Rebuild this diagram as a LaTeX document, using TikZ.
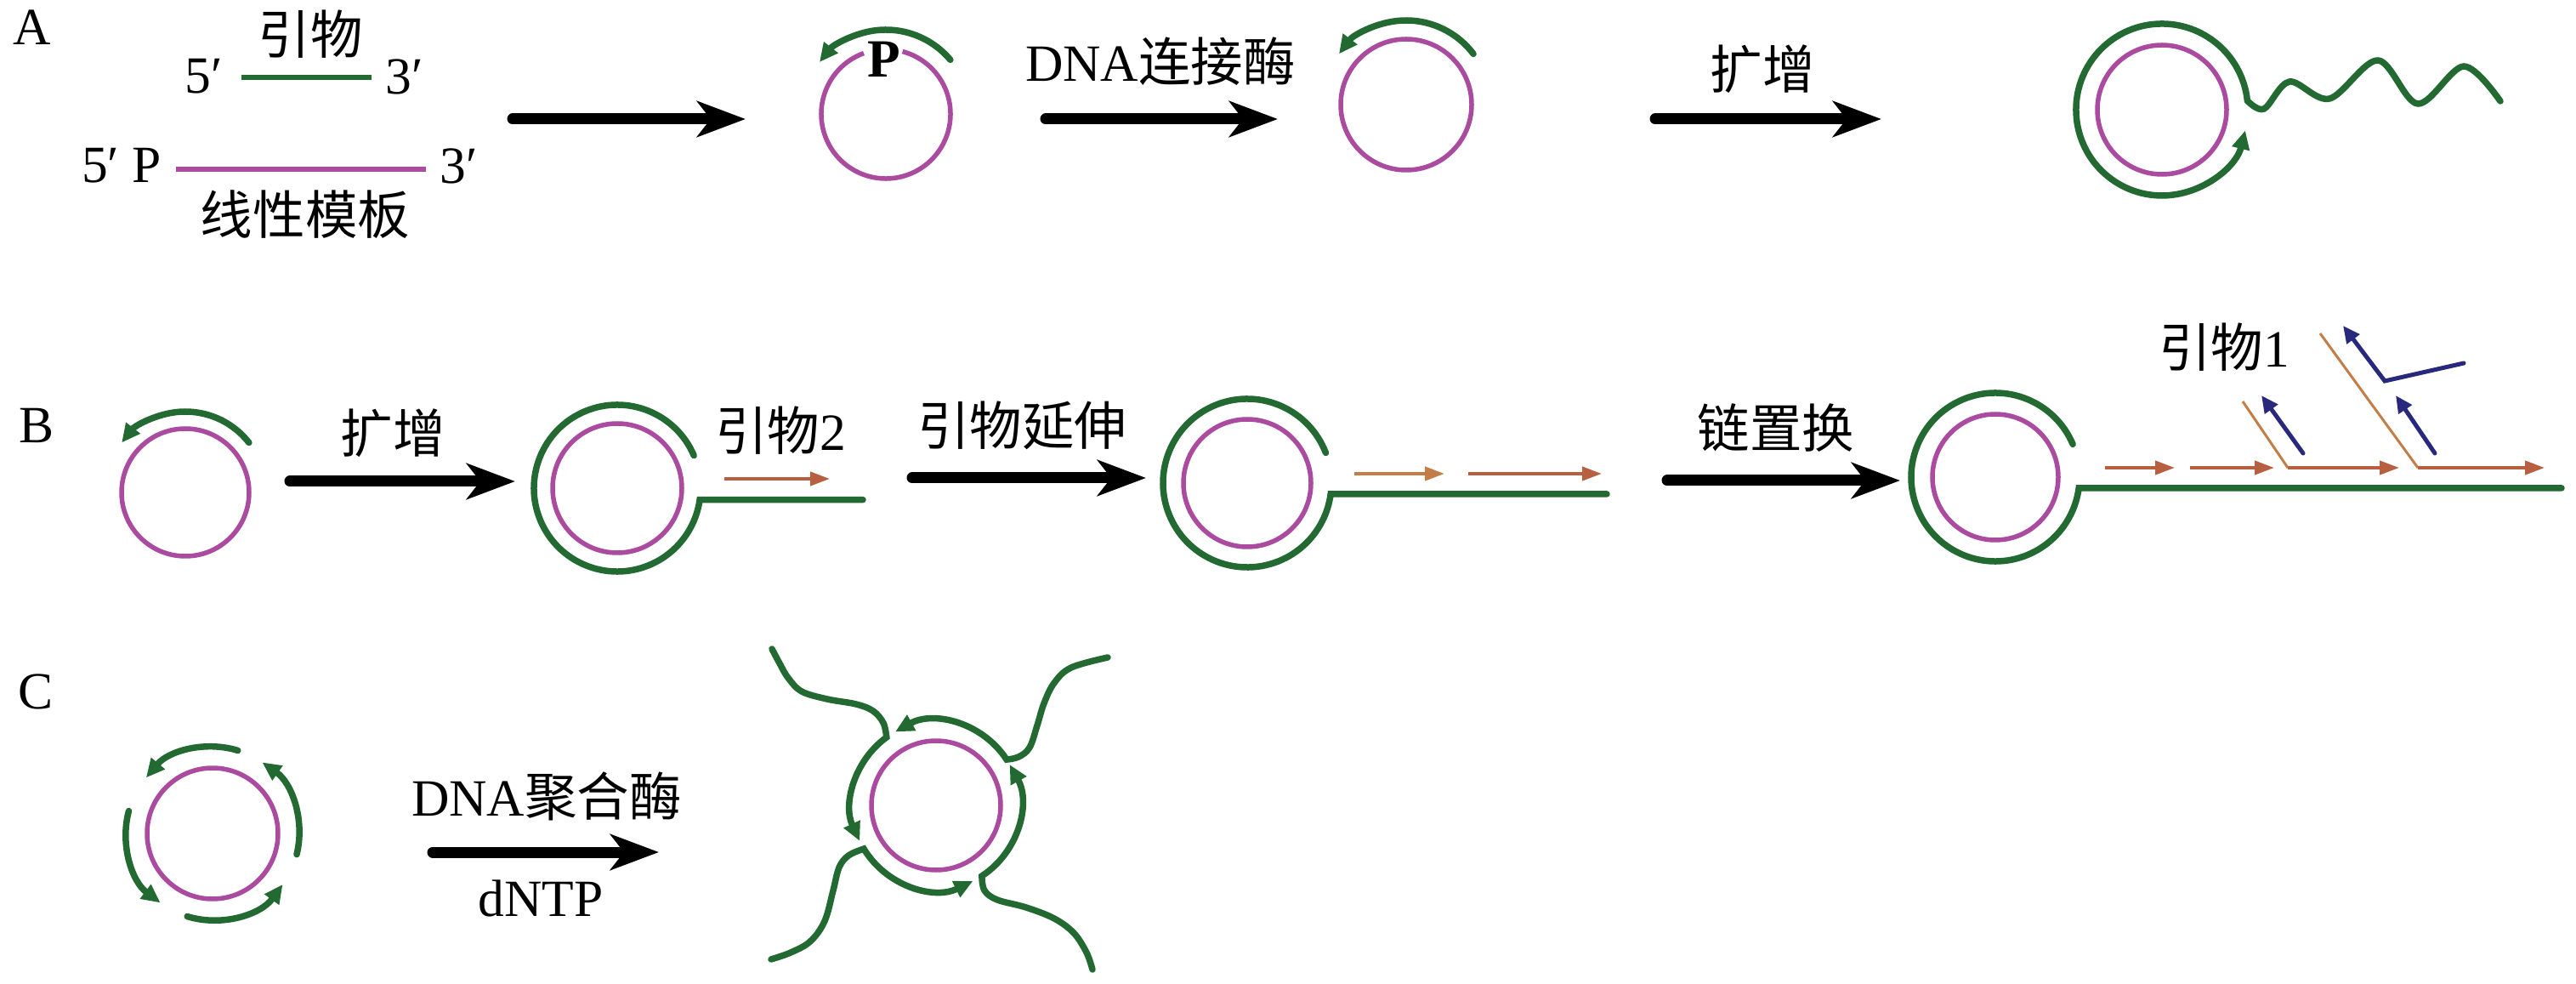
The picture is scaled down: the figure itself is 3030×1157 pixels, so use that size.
\documentclass[tikz,border=0pt]{standalone}
\usepackage{fontspec}
\setmainfont{Liberation Serif}
\newfontfamily\cjk{Noto Sans CJK SC}
\usetikzlibrary{arrows.meta}
\definecolor{pinkc}{RGB}{170,75,160}
\definecolor{greenc}{RGB}{35,105,50}
\definecolor{brownc}{RGB}{185,95,65}
\definecolor{orangec}{RGB}{195,125,70}
\definecolor{bluec}{RGB}{40,40,125}
\tikzset{
  pinkline/.style={draw=pinkc, line width=0.55mm},
  greenline/.style={draw=greenc, line width=0.75mm, line cap=round},
  gtip/.style={-{Triangle[length=2.2mm,width=2.0mm]}},
  bigarrow/.style={draw=black, line width=1.3mm, line cap=round, -{Stealth[length=5.7mm,width=4.2mm,inset=1.6mm]}},
  brownarrow/.style={draw=brownc, line width=0.4mm, -{Triangle[length=2.3mm,width=1.6mm]}},
  diagline/.style={draw=orangec, line width=0.3mm},
  bluearrow/.style={draw=bluec, line width=0.5mm, line cap=round, -{Triangle[length=2.0mm,width=1.8mm]}},
  txt/.style={inner sep=0pt, font=\fontsize{17.5}{20}\selectfont}
}
\begin{document}
\begin{tikzpicture}[x=0.1mm,y=0.1mm]
\useasboundingbox (0,0) rectangle (3030,-1157);
\fill[white] (0,0) rectangle (3030,-1157);

% ---------------- centres ----------------
\coordinate (a1) at (1042,-134);
\coordinate (a2) at (1654,-123);
\coordinate (a3) at (2543,-129);
\coordinate (b1) at (218,-579);
\coordinate (b2) at (726,-574);
\coordinate (b3) at (1467,-568);
\coordinate (b4) at (2347,-561);
\coordinate (c1) at (250,-980);
\coordinate (c2) at (1101,-947);

% ---------------- labels ----------------
\node[txt] (lA) at (38,-32) {A};
\node[txt] (lB) at (43,-500) {B};
\node[txt] (lC) at (42,-813) {C};

\node[txt] (primer) at (365,-40) {\cjk 引物};
\node[txt] (p5a) at (240,-90) {5′};
\node[txt] (p3a) at (476,-90) {3′};
\node[txt] (t5) at (143,-195) {5′ P};
\node[txt] (t3) at (540,-195) {3′};
\node[txt] (templ) at (359,-252) {\cjk 线性模板};
\node[txt, font=\fontsize{18}{20}\selectfont\bfseries] (pP) at (1040,-70) {P};
\node[txt] (lig) at (1365,-72) {DNA\cjk 连接酶};
\node[txt] (ampA) at (2073,-81) {\cjk 扩增};

\node[txt] (ampB) at (462,-509) {\cjk 扩增};
\node[txt] (pr2) at (918,-506) {{\cjk 引物}2};
\node[txt] (ext) at (1202,-500) {\cjk 引物延伸};
\node[txt] (disp) at (2089,-503) {\cjk 链置换};
\node[txt] (pr1) at (2616,-408) {{\cjk 引物}1};

\node[txt] (pol) at (643,-936) {DNA\cjk 聚合酶};
\node[txt] (dntp) at (636,-1056) {dNTP};

% ---------------- big arrows ----------------
\coordinate (ra1s) at (603,-140);  \coordinate (ra1e) at (877,-140);
\coordinate (ra2s) at (1230,-140); \coordinate (ra2e) at (1503,-140);
\coordinate (ra3s) at (1947,-140); \coordinate (ra3e) at (2213,-140);
\coordinate (rb1s) at (341,-566);  \coordinate (rb1e) at (606,-566);
\coordinate (rb2s) at (1073,-562); \coordinate (rb2e) at (1348,-562);
\coordinate (rb3s) at (1961,-565); \coordinate (rb3e) at (2235,-565);
\coordinate (rc1s) at (509,-1002); \coordinate (rc1e) at (775,-1002);
\draw[bigarrow] (ra1s) -- (ra1e);
\draw[bigarrow] (ra2s) -- (ra2e);
\draw[bigarrow] (ra3s) -- (ra3e);
\draw[bigarrow] (rb1s) -- (rb1e);
\draw[bigarrow] (rb2s) -- (rb2e);
\draw[bigarrow] (rb3s) -- (rb3e);
\draw[bigarrow] (rc1s) -- (rc1e);

% ---------------- row A ----------------
\draw[draw=greenc, line width=0.6mm] (284,-91) -- (437,-91);
\draw[draw=pinkc, line width=0.6mm] (207,-199) -- (501,-199);

% A1: open circle with P
\draw[pinkline] (a1) ++(110:76) arc[start angle=110, end angle=435, radius=76];
\draw[greenline, gtip] (a1) ++(40:99) arc[start angle=40, end angle=142, radius=99];

% A2: ligated circle
\draw[pinkline] (a2) circle[radius=77];
\draw[greenline, gtip] (a2) ++(37:99) arc[start angle=37, end angle=143, radius=99];

% A3: rolling circle with tail
\draw[pinkline] (a3) circle[radius=76];
\draw[greenline, gtip] plot[smooth, tension=0.55] coordinates {(2941,-119) (2898,-78) (2844,-122) (2797,-71) (2740,-116) (2693,-96) (2663,-128) (2643.4,-118.4)}
  arc[start angle=6, end angle=346, radius=101];

% ---------------- row B ----------------
\draw[pinkline] (b1) circle[radius=75];
\draw[greenline, gtip] (b1) ++(38:95) arc[start angle=38, end angle=142, radius=95];

\draw[pinkline] (b2) circle[radius=76];
\draw[greenline] (b2) ++(23:98) arc[start angle=23, end angle=352, radius=98] -- (1015,-587.6);
\draw[brownarrow] (852,-563) -- (976,-563);

\draw[pinkline] (b3) circle[radius=75];
\draw[greenline] (b3) ++(21:99) arc[start angle=21, end angle=352.5, radius=99] -- (1890,-580.9);
\draw[brownarrow, draw=orangec] (1593,-557) -- (1699,-557);
\draw[brownarrow] (1727,-557) -- (1884,-557);

\draw[pinkline] (b4) circle[radius=74];
\draw[greenline] (b4) ++(23:99) arc[start angle=23, end angle=352.5, radius=99] -- (3013,-573.9);
\draw[brownarrow] (2476,-550) -- (2558,-550);
\draw[brownarrow] (2576,-550) -- (2675,-550);
\draw[diagline] (2638,-472) -- (2691,-550);
\draw[brownarrow] (2691,-550) -- (2822,-550);
\draw[diagline] (2729,-392) -- (2844,-550);
\draw[brownarrow] (2844,-550) -- (2993,-550);
\draw[bluearrow] (2709,-533) -- (2660,-465);
\draw[bluearrow] (2864,-533) -- (2818,-465);
\draw[bluearrow] (2898,-427) -- (2805,-448) -- (2756,-383);

% ---------------- row C ----------------
\draw[pinkline] (c1) circle[radius=77];
\draw[greenline, gtip] (c1) ++(73:102) arc[start angle=73, end angle=140, radius=102];
\draw[greenline, gtip] (c1) ++(165:102) arc[start angle=165, end angle=233, radius=102];
\draw[greenline, gtip] (c1) ++(253:102) arc[start angle=253, end angle=324, radius=102];
\draw[greenline, gtip] (c1) ++(346:102) arc[start angle=346, end angle=415, radius=102];

\draw[pinkline] (c2) circle[radius=76];
\draw[greenline, gtip] plot[smooth, tension=0.6] coordinates {(1303,-773) (1260,-785) (1240,-803) (1228,-827) (1220,-853) (1211,-879) (1198,-890) (1184.0,-893.1)}
  arc[start angle=33, end angle=119, radius=99];
\draw[greenline, gtip] plot[smooth, tension=0.6] coordinates {(908,-763) (917,-780) (927,-797) (943,-813) (973,-822) (1007,-828) (1027,-836) (1039,-850) (1042.8,-866.9)}
  arc[start angle=126, end angle=205, radius=99];
\draw[greenline, gtip] plot[smooth, tension=0.6] coordinates {(907,-1128) (930,-1120) (953,-1107) (970,-1083) (980,-1047) (987,-1020) (998,-1006) (1016.1,-998.0)}
  arc[start angle=211, end angle=296, radius=99];
\draw[greenline, gtip] plot[smooth, tension=0.6] coordinates {(1285,-1140) (1278,-1120) (1263,-1097) (1240,-1080) (1207,-1067) (1173,-1058) (1158,-1047) (1154.9,-1030.0)}
  arc[start angle=303, end angle=389, radius=99];
\end{tikzpicture}
\end{document}
